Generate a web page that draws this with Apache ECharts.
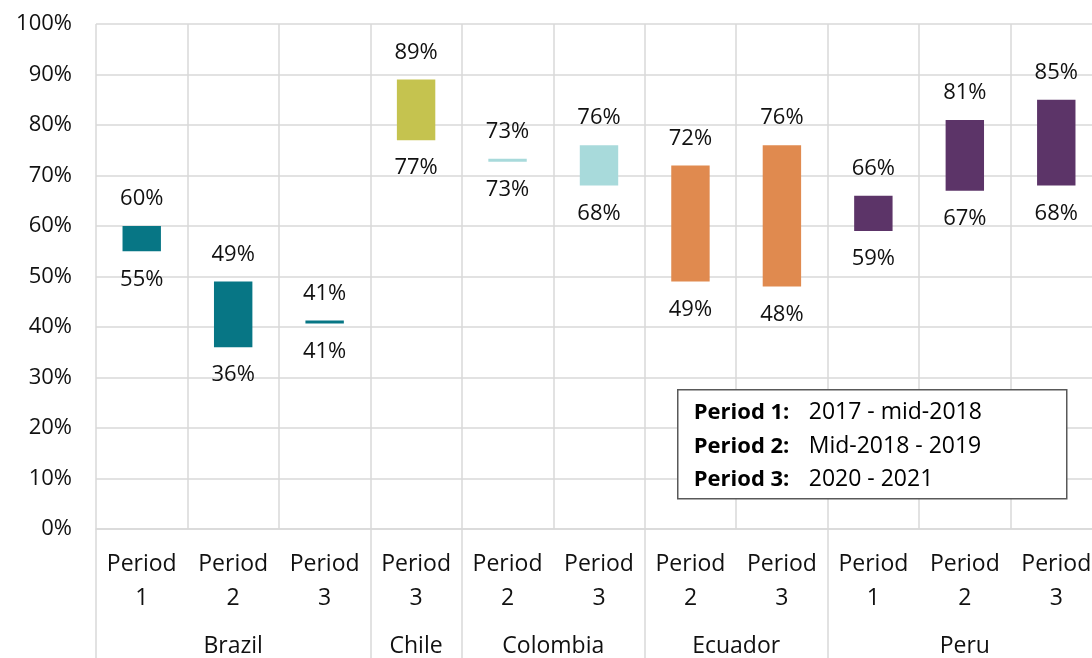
<!DOCTYPE html>
<html lang="en">
<head>
  <meta charset="UTF-8">
  <title>Range by period</title>
  <script src="https://cdn.jsdelivr.net/npm/echarts@6/dist/echarts.min.js"></script>
  <style>
    html, body { margin: 0; padding: 0; background: #fff; }
    #chart { width: 1092px; height: 658px; }
  </style>
</head>
<body>
  <div id="chart"></div>
  <script>
    // data
    var periods = ['Period\n1', 'Period\n2', 'Period\n3', 'Period\n3', 'Period\n2', 'Period\n3',
                   'Period\n2', 'Period\n3', 'Period\n1', 'Period\n2', 'Period\n3'];
    var countries = ['Brazil', 'Chile', 'Colombia', 'Ecuador', 'Peru'];
    var countrySpans = [3, 1, 2, 2, 3];
    var lowVals  = [55, 36, 41, 77, 73, 68, 49, 48, 59, 67, 68];
    var highVals = [60, 49, 41, 89, 73, 76, 72, 76, 66, 81, 85];
    var countryColors = ['#077685', '#c5c34f', '#a8dadb', '#e08a4f', '#5c3468'];
    var legendKeys = ['Period 1:', 'Period 2:', 'Period 3:'];
    var legendText = ['2017 - mid-2018', 'Mid-2018 - 2019', '2020 - 2021'];

    var FONT = '"Open Sans", "Noto Sans", sans-serif';
    var GRID = '#d9d9d9';

    // which country each period belongs to
    var colorIdx = [];
    countrySpans.forEach(function (n, c) {
      for (var k = 0; k < n; k++) colorIdx.push(c);
    });

    // second axis: half-category points, names at group centres, ticks at group edges
    var halfData = [];
    for (var i = 0; i <= periods.length * 2; i++) halfData.push('');
    var edges = {0: true};
    var pos = 0;
    countrySpans.forEach(function (n, c) {
      halfData[pos + n] = countries[c];
      pos += n * 2;
      edges[pos] = true;
    });

    var seriesData = periods.map(function (p, i) {
      return [i, lowVals[i], highVals[i], colorIdx[i]];
    });

    // legend box
    var boxChildren = [{
      type: 'rect', z: 100,
      shape: {x: 0, y: 0, width: 389, height: 109},
      style: {fill: '#fff', stroke: '#595959', lineWidth: 1.5}
    }];
    legendKeys.forEach(function (k, i) {
      var y = 23 + i * 33.5;
      boxChildren.push({
        type: 'text', z: 101, x: 16, y: y,
        style: {text: k, font: 'bold 22px ' + FONT, fill: '#000', verticalAlign: 'middle'}
      });
      boxChildren.push({
        type: 'text', z: 101, x: 131, y: y,
        style: {text: legendText[i], font: '23px ' + FONT, fill: '#000', verticalAlign: 'middle'}
      });
    });

    var chart = echarts.init(document.getElementById('chart'), null, {renderer: 'canvas'});

    var option = {
      animation: false,
      textStyle: {fontFamily: FONT},
      grid: {left: 96, top: 24, width: 1006, height: 505, outerBoundsMode: 'none', containLabel: false},
      xAxis: [{
        type: 'category',
        data: periods,
        position: 'bottom',
        axisLine: {show: true, lineStyle: {color: GRID, width: 1.5}},
        axisTick: {show: false},
        splitLine: {show: true, interval: 0, lineStyle: {color: GRID, width: 1.5}},
        axisLabel: {
          interval: 0, margin: 18, fontSize: 23, lineHeight: 34,
          color: '#111', fontFamily: FONT
        }
      }, {
        type: 'category',
        data: halfData,
        boundaryGap: false,
        position: 'bottom',
        axisLine: {show: false},
        axisTick: {
          show: true, inside: false, length: 140,
          interval: function (idx) { return !!edges[idx]; },
          lineStyle: {color: GRID, width: 1.5}
        },
        splitLine: {show: false},
        axisLabel: {
          interval: function (idx, val) { return val !== ''; },
          margin: 100, fontSize: 23, lineHeight: 34,
          color: '#111', fontFamily: FONT
        }
      }],
      yAxis: {
        type: 'value',
        min: 0, max: 100, interval: 10,
        axisLine: {show: false},
        axisTick: {show: false},
        splitLine: {lineStyle: {color: GRID, width: 1.5}},
        axisLabel: {
          formatter: '{value}%', margin: 24, fontSize: 22,
          color: '#111', fontFamily: FONT
        }
      },
      series: [{
        type: 'custom',
        xAxisIndex: 0,
        encode: {x: 0, y: [1, 2]},
        data: seriesData,
        renderItem: function (params, api) {
          var idx = api.value(0);
          var lo = api.coord([idx, api.value(1)]);
          var hi = api.coord([idx, api.value(2)]);
          var bw = api.size([1, 0])[0] * 0.42;
          var raw = lo[1] - hi[1];
          var h = Math.max(raw, 3);
          var top = hi[1] - (h - raw) / 2;
          var col = countryColors[api.value(3)];
          return {
            type: 'group',
            children: [{
              type: 'rect',
              shape: {x: lo[0] - bw / 2, y: top, width: bw, height: h},
              style: {fill: col}
            }, {
              type: 'text',
              x: hi[0], y: top - 27,
              style: {
                text: api.value(2) + '%', fill: '#111', font: '22px ' + FONT,
                align: 'center', verticalAlign: 'middle'
              }
            }, {
              type: 'text',
              x: lo[0], y: top + h + 28,
              style: {
                text: api.value(1) + '%', fill: '#111', font: '22px ' + FONT,
                align: 'center', verticalAlign: 'middle'
              }
            }]
          };
        }
      }],
      graphic: [{
        type: 'group',
        left: 677, top: 389,
        z: 100,
        children: boxChildren
      }]
    };

    chart.setOption(option);
  </script>
</body>
</html>
